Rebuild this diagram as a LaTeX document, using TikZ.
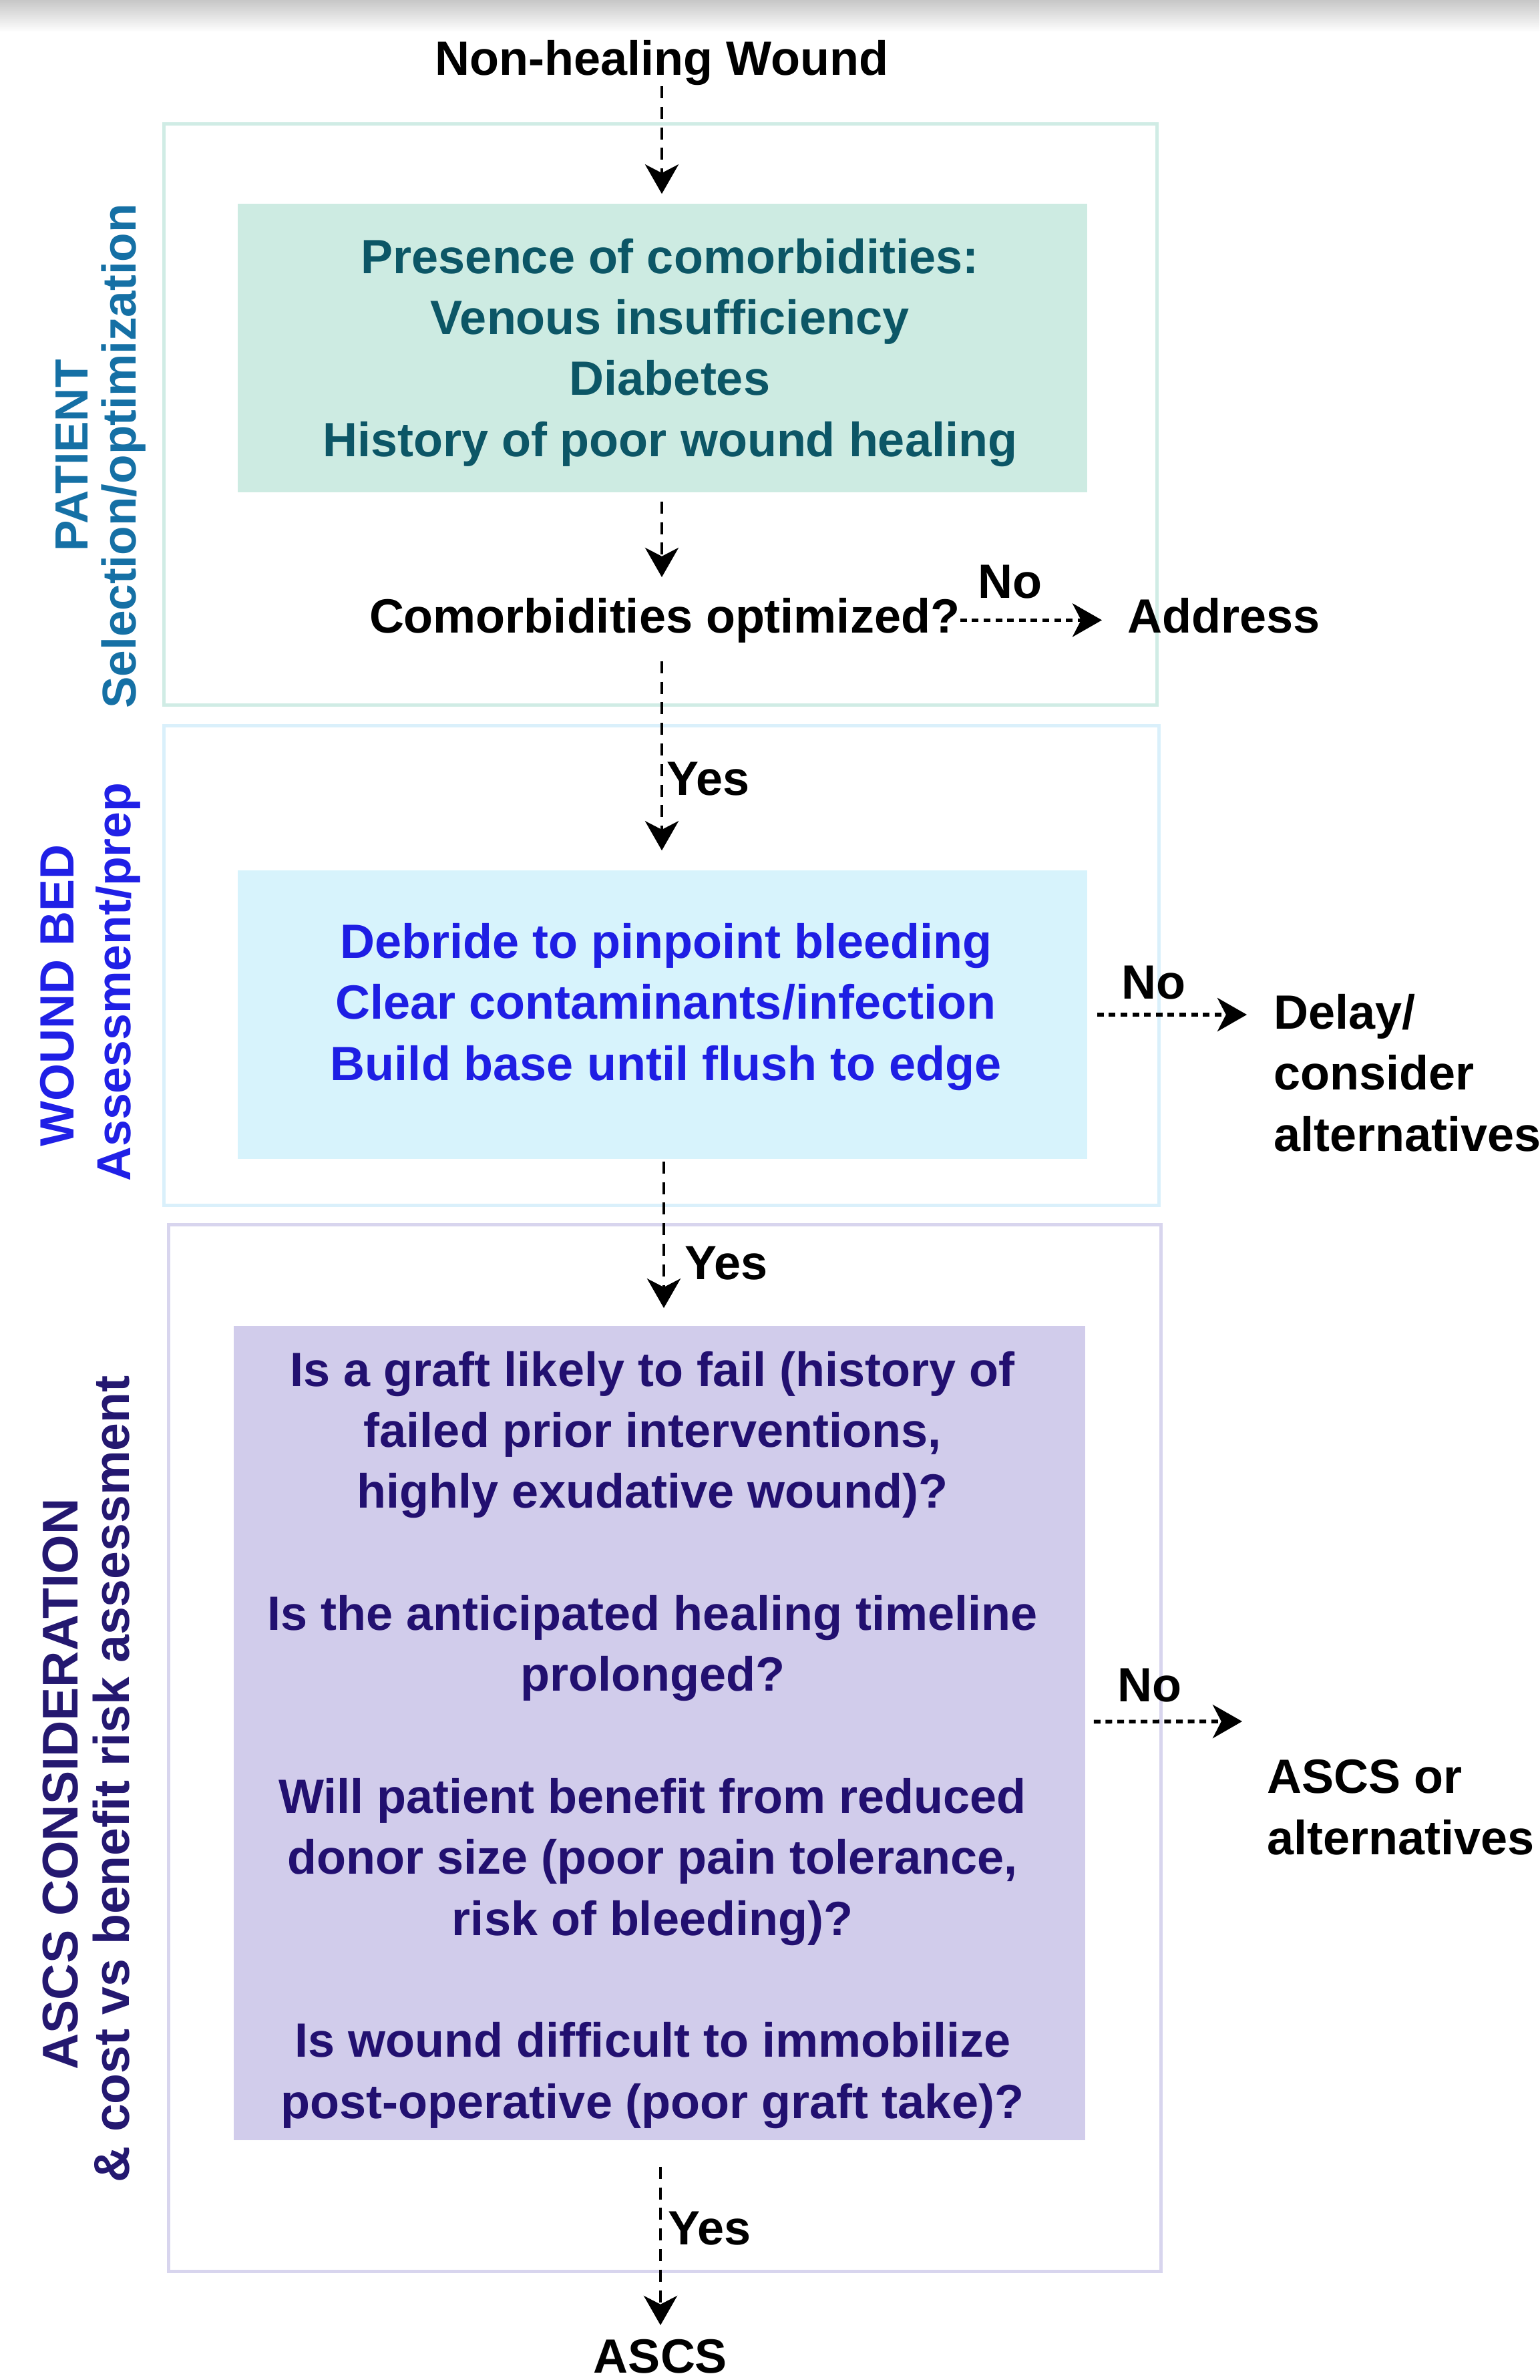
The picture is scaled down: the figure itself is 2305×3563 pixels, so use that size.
\documentclass[tikz,border=0pt]{standalone}
\usepackage{fontspec}
\setmainfont{Liberation Sans}
\usetikzlibrary{arrows.meta}
\definecolor{gfill}{RGB}{205,235,226}
\definecolor{gtext}{RGB}{12,86,102}
\definecolor{bfill}{RGB}{215,243,252}
\definecolor{btext}{RGB}{30,30,228}
\definecolor{pfill}{RGB}{209,204,235}
\definecolor{ptext}{RGB}{34,16,112}
\definecolor{side1}{RGB}{21,112,165}
\definecolor{side2}{RGB}{32,32,230}
\definecolor{side3}{RGB}{36,24,112}
\definecolor{edge1}{RGB}{208,236,229}
\definecolor{edge2}{RGB}{218,240,251}
\definecolor{edge3}{RGB}{216,213,238}
\newcommand\fsz[1]{\fontsize{#1}{22.83}\selectfont\bfseries}
\tikzset{
  txt/.style={inner sep=0pt, anchor=base, font=\fsz{18}},
  sidelbl/.style={inner sep=0pt, anchor=base, rotate=90},
  outerbox/.style={draw, line width=1.25pt, inner sep=0pt, fill=white},
  fillbox/.style={inner sep=0pt},
  tipstyle/.style={-{Stealth[length=11pt,width=12.5pt,inset=3.2pt]}},
  vflow/.style={tipstyle, line width=1.2pt, dash pattern=on 4.5pt off 3.2pt},
  hflow/.style={tipstyle, line width=1.4pt, dash pattern=on 2.5pt off 1.9pt}
}
\begin{document}
\begin{tikzpicture}[x=0.25pt,y=-0.25pt]
\useasboundingbox (0,0) rectangle (2305,3563);
\fill[white] (0,0) rectangle (2305,3563);
\shade[top color=black!22, bottom color=white] (0,0) rectangle (2305,48);

% outer section boxes
\node[outerbox, draw=edge1, minimum width=371.75pt, minimum height=217.25pt] (sec1) at (988.5,620.5) {};
\node[outerbox, draw=edge2, minimum width=372.5pt, minimum height=179.5pt] (sec2) at (990,1445) {};
\node[outerbox, draw=edge3, minimum width=371.5pt, minimum height=391.75pt] (sec3) at (995,2616.5) {};

% filled boxes
\node[fillbox, fill=gfill, minimum width=318pt, minimum height=108pt] (green) at (992,521) {};
\node[fillbox, fill=bfill, minimum width=318pt, minimum height=108pt] (blue) at (992,1519) {};
\node[fillbox, fill=pfill, minimum width=318.75pt, minimum height=304.75pt] (purple) at (987.5,2594.5) {};

% side labels
\node[sidelbl, text=side1, font=\fsz{17.4}] (pat1) at (131,682) {PATIENT};
\node[sidelbl, text=side1, font=\fsz{17.8}] (pat2) at (203,683) {Selection/optimization};
\node[sidelbl, text=side2, font=\fsz{18}] (wb1) at (110,1490) {WOUND BED};
\node[sidelbl, text=side2, font=\fsz{17.9}] (wb2) at (195,1470) {Assessment/prep};
\node[sidelbl, text=side3, font=\fsz{18.8}] (as1) at (116,2671) {ASCS CONSIDERATION};
\node[sidelbl, text=side3, font=\fsz{18.8}] (as2) at (193,2663) {\&~cost vs benefit risk assessment};

% texts (multi-line nodes: base = baseline of the last line)
\node[txt] (start) at (991,113) {Non-healing Wound};
\node[txt, text=gtext, align=center] (gtxt) at (1003,683) {Presence of comorbidities:\\Venous insufficiency\\Diabetes\\History of poor wound healing};
\node[txt] (comorb) at (995,947) {Comorbidities optimized?};
\node[txt] (no1) at (1512,895) {No};
\node[txt, anchor=base west] (address) at (1688,947) {Address};
\node[txt, anchor=base west] (yes1) at (998,1190) {Yes};
\node[txt, text=btext, align=center] (btxt) at (997,1617) {Debride to pinpoint bleeding\\Clear contaminants/infection\\Build base until flush to edge};
\node[txt] (no2) at (1727,1495) {No};
\node[txt, anchor=base west, align=left] (delay) at (1907,1723) {Delay/\\consider\\alternatives};
\node[txt, anchor=base west] (yes2) at (1025,1915) {Yes};
\node[txt, text=ptext, align=center] (ptxt) at (977,3171) {Is a graft likely to fail (history of\\failed prior interventions,\\highly exudative wound)?\\[22.83pt]Is the anticipated healing timeline\\prolonged?\\[22.83pt]Will patient benefit from reduced\\donor size (poor pain tolerance,\\risk of bleeding)?\\[22.83pt]Is wound difficult to immobilize\\post-operative (poor graft take)?};
\node[txt] (no3) at (1721,2547) {No};
\node[txt, anchor=base west, align=left] (ascsor) at (1897,2776) {ASCS or\\alternatives};
\node[txt, anchor=base west] (yes3) at (1000,3360) {Yes};
\node[txt] (ascs) at (989,3552) {ASCS};

\coordinate (pno) at (1860,2577);

% connectors
\draw[vflow, shorten >=3.5pt] (start.south) -- (green.north -| start.south);
\draw[vflow, shorten <=3.25pt, shorten >=7.5pt] (green.south -| start.south) -- (comorb.north -| start.south);
\draw[vflow, shorten <=6.75pt, shorten >=7.25pt] (comorb.south -| start.south) -- (blue.north -| start.south);
\draw[hflow] (comorb.east) -- ([xshift=-9.5pt]comorb.east -| address.west);
\draw[vflow, shorten <=0.75pt, shorten >=6.5pt] ([xshift=0.75pt]blue.south -| start.south) -- ([xshift=0.75pt]purple.north -| start.south);
\draw[hflow, shorten <=3.5pt, shorten >=10pt] (blue.east) -- (blue.east -| delay.west);
\draw[hflow, shorten <=3pt] ([yshift=4.25pt]purple.east) -- (pno);
\draw[vflow, shorten <=9.75pt, shorten >=5pt] (purple.south -| ascs.north) -- (ascs.north);
\end{tikzpicture}
\end{document}
